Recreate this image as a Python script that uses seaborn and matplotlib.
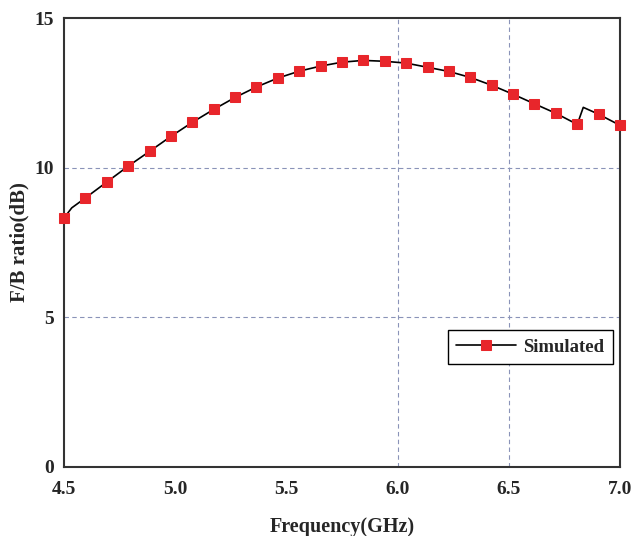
import numpy as np
import pandas as pd
import matplotlib
matplotlib.use("Agg")
import matplotlib.pyplot as plt
import seaborn as sns

# marker samples
freq = [4.5, 4.596, 4.692, 4.788, 4.885, 4.981, 5.077, 5.173, 5.269, 5.365,
        5.462, 5.558, 5.654, 5.75, 5.846, 5.942, 6.038, 6.135, 6.231, 6.327,
        6.423, 6.519, 6.615, 6.712, 6.808, 6.904, 7.0]
fb = [8.32, 8.99, 9.52, 10.05, 10.55, 11.05, 11.52, 11.95, 12.35, 12.70,
      13.00, 13.23, 13.40, 13.53, 13.59, 13.56, 13.50, 13.36, 13.22, 13.02,
      12.76, 12.46, 12.14, 11.82, 11.45, 11.79, 11.42]
# extra curve points (between markers)
extra_freq = [4.535, 6.835]
extra_fb = [8.66, 12.02]

line_df = pd.DataFrame({"f": freq + extra_freq, "v": fb + extra_fb}).sort_values("f").reset_index(drop=True)
mark_idx = [i for i, f in enumerate(line_df["f"]) if f in freq]

sns.set_theme(style="white")
plt.rcParams["font.family"] = ["Liberation Serif", "DejaVu Serif"]
plt.rcParams["font.weight"] = "bold"

fig = plt.figure(figsize=(6.36, 5.36), dpi=100)
ax = fig.add_axes([0.1006, 0.129, 0.8742, 0.837])

for yv in [5, 10]:
    ax.axhline(yv, color="#8a93b8", lw=0.8, ls=(0, (4, 3)), zorder=0)
for xv in [6.0, 6.5]:
    ax.axvline(xv, color="#8a93b8", lw=0.8, ls=(0, (4, 3)), zorder=0)

sns.lineplot(data=line_df, x="f", y="v", ax=ax, color="black", lw=1.2,
             marker="s", markersize=6.5, markerfacecolor="#e8262b",
             markeredgecolor="#e8262b", markevery=mark_idx, label="Simulated",
             sort=False, zorder=3, clip_on=False)

ax.set_xlim(4.5, 7.0)
ax.set_ylim(0, 15)
ax.set_xticks([4.5, 5.0, 5.5, 6.0, 6.5, 7.0])
ax.set_xticklabels(["4.5", "5.0", "5.5", "6.0", "6.5", "7.0"])
ax.set_yticks([0, 5, 10, 15])
ax.tick_params(axis="x", length=0, labelsize=14, pad=10)
ax.tick_params(axis="y", length=0, labelsize=14, pad=7)
for lab in ax.get_xticklabels() + ax.get_yticklabels():
    lab.set_fontweight("bold")
ax.set_xlabel("Frequency(GHz)", fontsize=14.5, fontweight="bold", labelpad=14)
ax.set_ylabel("F/B ratio(dB)", fontsize=15, fontweight="bold", labelpad=4)
for s in ax.spines.values():
    s.set_color("#333333")
    s.set_linewidth(1.5)

leg = ax.legend(loc="upper left", bbox_to_anchor=(0.69, 0.305), fancybox=False,
                edgecolor="black", framealpha=1, fontsize=13.5, handlelength=3.2,
                borderpad=0.45, handletextpad=0.4, borderaxespad=0)
leg.get_frame().set_linewidth(1.0)
for t in leg.get_texts():
    t.set_fontweight("bold")

fig.savefig("out.png", dpi=100)
